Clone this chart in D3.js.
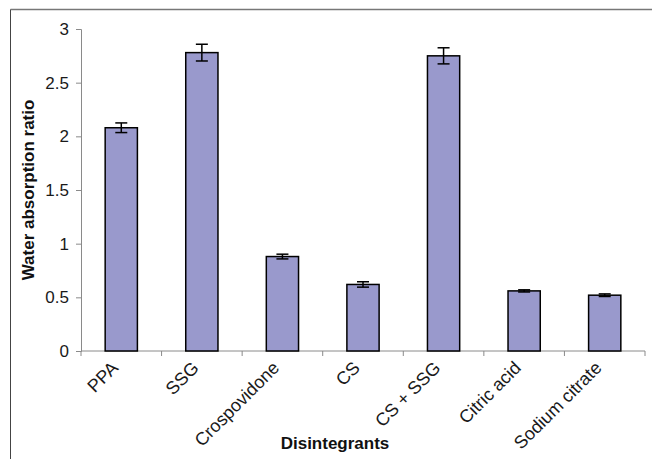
<!DOCTYPE html>
<html lang="en">
<head>
    <meta charset="UTF-8">
    <title>Water absorption ratio</title>
    <script src="https://d3js.org/d3.v7.min.js"></script>
    <style>
        body { margin: 0; background: #fff; }
        svg { display: block; font-family: "Liberation Sans", Arial, sans-serif; }
        .axis path, .axis line { stroke: #8a8a8a; }
        .title { font-size: 17px; font-weight: bold; fill: #111; }
    </style>
</head>
<body>
    <svg id="chart" width="652" height="459"></svg>
    <script>
        // values
        const categories = ["PPA", "SSG", "Crospovidone", "CS", "CS + SSG", "Citric acid", "Sodium citrate"];
        const ratios = [2.08, 2.78, 0.88, 0.62, 2.75, 0.56, 0.52];
        const errors = [0.045, 0.078, 0.022, 0.025, 0.075, 0.01, 0.012];
        const yTicks = [0, 0.5, 1, 1.5, 2, 2.5, 3];

        const data = categories.map((c, i) => ({ name: c, value: ratios[i], err: errors[i] }));

        const svg = d3.select("#chart");
        const margin = { top: 29, right: 7, bottom: 108, left: 81 };
        const width = 652 - margin.left - margin.right,
              height = 459 - margin.top - margin.bottom;

        // frame: top and left border lines
        svg.append("line").attr("x1", 10.5).attr("x2", 652).attr("y1", 9.5).attr("y2", 9.5)
            .attr("stroke", "#777").attr("stroke-width", 1.5);
        svg.append("line").attr("x1", 10.5).attr("x2", 10.5).attr("y1", 9.5).attr("y2", 459)
            .attr("stroke", "#444").attr("stroke-width", 1);

        const g = svg.append("g").attr("transform", `translate(${margin.left},${margin.top})`);

        const x = d3.scaleBand().domain(categories).range([0, width]).padding(0);
        const y = d3.scaleLinear().domain([0, 3]).range([height, 0]);
        const barW = x.bandwidth() * 0.4;

        // y axis
        const yAxis = g.append("g").attr("class", "axis")
            .call(d3.axisLeft(y).tickValues(yTicks).tickSize(5).tickPadding(7).tickFormat(d3.format("")));
        yAxis.attr("font-size", 17).attr("font-family", null);
        yAxis.selectAll(".tick text").attr("fill", "#1a1a1a");

        // x axis with ticks at category boundaries
        const xAxis = g.append("g").attr("class", "axis").attr("transform", `translate(0,${height})`);
        xAxis.append("line").attr("x1", 0).attr("x2", width).attr("stroke", "#8a8a8a");
        xAxis.selectAll("line.bound").data(d3.range(categories.length + 1)).enter().append("line")
            .attr("class", "bound")
            .attr("x1", i => i * x.step()).attr("x2", i => i * x.step())
            .attr("y1", 0).attr("y2", 5).attr("stroke", "#8a8a8a");
        xAxis.selectAll("text").data(categories).enter().append("text")
            .attr("class", "tick-label")
            .attr("text-anchor", "end")
            .attr("transform", d => `translate(${x(d) + x.bandwidth() / 2 - 2},${18}) rotate(-45)`)
            .attr("font-size", 18).attr("fill", "#1a1a1a")
            .text(d => d);

        // bars
        g.selectAll("rect.bar").data(data).enter().append("rect")
            .attr("class", "bar")
            .attr("x", d => x(d.name) + (x.bandwidth() - barW) / 2)
            .attr("y", d => y(d.value))
            .attr("width", barW)
            .attr("height", d => height - y(d.value))
            .attr("fill", "#9999cc")
            .attr("stroke", "#000")
            .attr("stroke-width", 1.5);

        // error bars
        const cx = d => x(d.name) + x.bandwidth() / 2;
        const eb = g.selectAll("g.err").data(data).enter().append("g").attr("class", "err")
            .attr("stroke", "#000").attr("stroke-width", 1.5);
        eb.append("line").attr("x1", cx).attr("x2", cx)
            .attr("y1", d => y(d.value + d.err)).attr("y2", d => y(d.value - d.err));
        eb.append("line").attr("x1", d => cx(d) - 6).attr("x2", d => cx(d) + 6)
            .attr("y1", d => y(d.value + d.err)).attr("y2", d => y(d.value + d.err));
        eb.append("line").attr("x1", d => cx(d) - 6).attr("x2", d => cx(d) + 6)
            .attr("y1", d => y(d.value - d.err)).attr("y2", d => y(d.value - d.err));

        // axis titles
        svg.append("text").attr("class", "title")
            .attr("text-anchor", "middle")
            .attr("transform", "translate(34,190) rotate(-90)")
            .text("Water absorption ratio");
        svg.append("text").attr("class", "title")
            .attr("text-anchor", "middle")
            .attr("x", 335).attr("y", 449)
            .text("Disintegrants");
    </script>
</body>
</html>
